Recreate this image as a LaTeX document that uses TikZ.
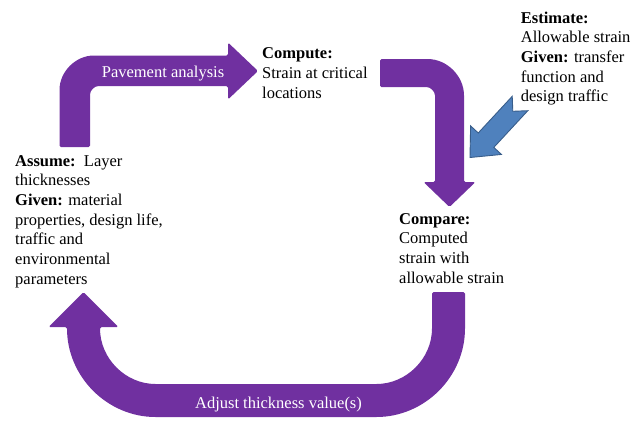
\documentclass[tikz,border=0pt]{standalone}
\usepackage{fontspec}
\setmainfont{Liberation Serif}
\definecolor{arrowpurple}{RGB}{112,48,160}
\definecolor{arrowblue}{RGB}{79,129,189}
\definecolor{arrowblueline}{RGB}{56,93,138}
\tikzset{
  purplearrow/.style={fill=arrowpurple, draw=none, rounded corners=1.5pt},
  bluearrow/.style={fill=arrowblue, draw=arrowblueline, line width=0.9pt, line join=miter},
  infotext/.style={anchor=north west, inner sep=0pt, align=left, font=\fontsize{16.5}{19.7}\selectfont, text=black},
  arrowlabel/.style={anchor=base, inner sep=0pt, font=\fontsize{16.5}{19.7}\selectfont, text=white}
}
\begin{document}
\begin{tikzpicture}[x=1pt, y=-1pt]
\useasboundingbox (0,0) rectangle (641,421);

% Arrow 1: Pavement analysis
\fill[purplearrow] (59.5,147) -- (59.5,91.5)
  .. controls (59.5,71.6) and (75.6,55.5) .. (95.5,55.5)
  -- (228,55.5) -- (228,42.5) -- (258,71) -- (228,99.5) -- (228,86)
  -- (100,86) .. controls (94.5,86) and (90,90.5) .. (90,96)
  -- (90,147) -- cycle;
\node[arrowlabel] (pav) at (163,77) {Pavement analysis};

% Arrow 2: bent down
\fill[purplearrow] (380,59) -- (426,59)
  .. controls (447,59) and (464,76) .. (464,97)
  -- (464,182) -- (475.5,182) -- (449.5,207) -- (423.5,182) -- (435,182)
  -- (435,97) .. controls (435,91.5) and (430.5,87) .. (425,87)
  -- (380,87) -- cycle;

% Arrow 3: U-turn
\fill[purplearrow] (432,292) -- (465,292) -- (465,327)
  .. controls (465,376.7) and (424.7,417) .. (375,417)
  -- (157,417) .. controls (107.3,417) and (67,376.7) .. (67,327)
  -- (48.5,327) -- (83.5,292) -- (118.5,327) -- (100,327)
  .. controls (100,358.5) and (125.5,384) .. (157,384)
  -- (375,384) .. controls (406.5,384) and (432,358.5) .. (432,327)
  -- cycle;
\node[arrowlabel] (adj) at (278.5,408) {Adjust thickness value(s)};

% Blue notched arrow
\begin{scope}[shift={(520,103.5)}, rotate=227.2]
\draw[bluearrow] (0,10.6) -- (50,10.6) -- (50,21) -- (73.6,0) -- (50,-21) -- (50,-10.6) -- (0,-10.6) -- (10.6,0) -- cycle;
\end{scope}

% Texts
\node[infotext] (compute) at (262,47.5) {\textbf{Compute:}\\Strain at critical\\locations};
\node[infotext] (estimate) at (520.7,11.5) {\textbf{Estimate:}\\Allowable strain\\\textbf{Given:} transfer\\function and\\design traffic};
\node[infotext] (assume) at (15,155) {\textbf{Assume:}~~Layer\\thicknesses\\\textbf{Given:} material\\properties, design life,\\traffic and\\environmental\\parameters};
\node[infotext] (compare) at (399,213) {\textbf{Compare:}\\Computed\\strain with\\allowable strain};
\end{tikzpicture}
\end{document}
